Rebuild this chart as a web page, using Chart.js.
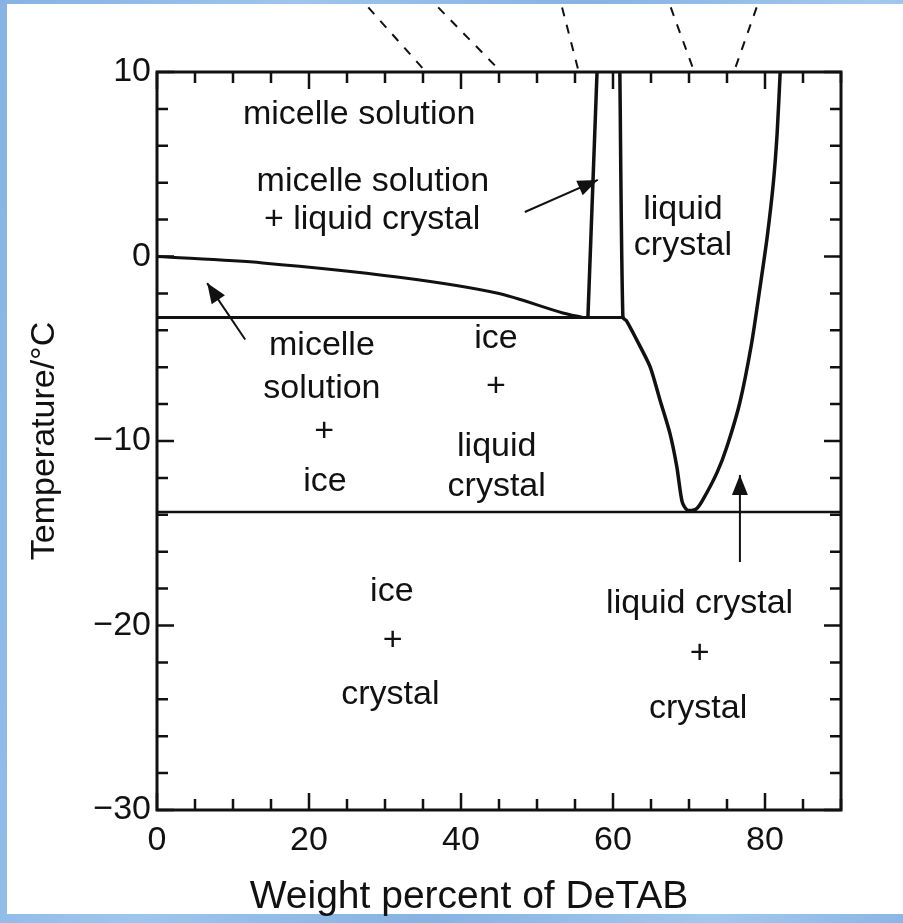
<!DOCTYPE html>
<html>
<head>
<meta charset="utf-8">
<script src="https://cdn.jsdelivr.net/npm/chart.js@4.4.1/dist/chart.umd.min.js"></script>
<style>
  html, body { margin: 0; padding: 0; }
  body {
    width: 903px; height: 923px; position: relative; overflow: hidden;
    background: linear-gradient(100deg, #86b3e3 0%, #9dc5ed 28%, #86b3e3 55%, #a2c8ee 82%, #8ab6e5 100%);
  }
  #sheet { position: absolute; left: 7px; top: 4px; right: 0; bottom: 9px; background: #fff; }
  #chart { position: absolute; left: 0; top: 0; }
</style>
</head>
<body>
<div id="sheet"></div>
<canvas id="chart" width="903" height="923"></canvas>
<script>
// DeTAB / water phase diagram: weight percent (x) vs temperature in °C (y)

const xTickValues = [0, 20, 40, 60, 80];
const xTickLabels = ['0', '20', '40', '60', '80'];
const yTickValues = [10, 0, -10, -20, -30];
const yTickLabels = ['10', '0', '\u221210', '\u221220', '\u221230'];
const xMinorTicks = [5, 10, 15, 25, 30, 35, 45, 50, 55, 65, 70, 75, 85, 90];
const yMinorTicks = [8, 6, 4, 2, -2, -4, -6, -8, -12, -14, -16, -18, -22, -24, -26, -28];
const xTitle = 'Weight percent of DeTAB';
const yTitle = 'Temperature/\u00B0C';

// micelle solution / micelle solution + liquid crystal boundary
const liquidusX = [0, 13.9, 31.6, 44.7, 53.4, 56.0];
const liquidusY = [0, -0.35, -1.11, -1.98, -3.06, -3.3];

// ice line
const eutecticX = [0, 61.5];
const eutecticY = [-3.3, -3.3];

// narrow two-phase strip, left edge
const stripLeftX = [57.9, 56.7];
const stripLeftY = [10, -3.3];

// liquid crystal region outline
const lcX = [60.9, 61.3, 61.8, 63.6, 64.9, 66.2, 67.5, 68.4, 69.1, 69.8, 70.9, 71.8, 73.7, 75.0, 76.7, 78.2, 79.3, 80.3, 81.1, 81.6, 82.0];
const lcY = [10, -3.3, -3.5, -4.9, -6.0, -7.8, -9.6, -11.4, -13.3, -13.75, -13.7, -13.2, -11.7, -10.3, -7.9, -4.8, -1.8, 1.1, 4.0, 6.7, 10];

// crystal line
const solidusX = [0, 90];
const solidusY = [-13.85, -13.85];

// dashed leaders running off the top of the frame
const leaderTopX = [27.8, 37.0, 53.3, 67.6, 78.9];
const leaderBaseX = [35.4, 45.3, 55.5, 70.7, 75.9];
const leaderTopY = 13.5;

// arrows: tail -> head
const arrowTailX = [48.4, 11.6, 76.7];
const arrowTailY = [2.41, -4.5, -16.56];
const arrowHeadX = [58.0, 6.6, 76.7];
const arrowHeadY = [4.15, -1.44, -11.84];

// region labels, anchored at data coordinates
const labelText = ['micelle solution', 'micelle solution', '+ liquid crystal', 'liquid', 'crystal',
  'micelle', 'solution', '+', 'ice', 'ice', '+', 'liquid', 'crystal',
  'ice', '+', 'crystal', 'liquid crystal', '+', 'crystal'];
const labelX = [26.6, 28.4, 28.3, 69.2, 69.2, 21.7, 21.7, 22.0, 22.1, 44.6, 44.6, 44.7, 44.7,
  30.9, 31.0, 30.7, 71.4, 71.4, 71.2];
const labelY = [7.67, 4.04, 1.98, 2.52, 0.57, -4.85, -7.18, -9.51, -12.22, -4.47, -7.07, -10.33, -12.49,
  -18.18, -20.84, -23.77, -18.83, -21.54, -24.53];

const INK = '#111';
const FONT = '"Liberation Sans", Arial, sans-serif';

function pts(xs, ys) {
  return xs.map((x, i) => ({ x: x, y: ys[i] }));
}

function boundary(xs, ys, width, extra) {
  return Object.assign({
    data: pts(xs, ys),
    showLine: true,
    borderColor: INK,
    borderWidth: width,
    pointRadius: 0,
    tension: 0,
    fill: false
  }, extra || {});
}

const datasets = [
  boundary(liquidusX, liquidusY, 3, { tension: 0.3 }),
  boundary(eutecticX, eutecticY, 3),
  boundary(stripLeftX, stripLeftY, 3.5),
  boundary(lcX, lcY, 3.5, { tension: 0.25 }),
  boundary(solidusX, solidusY, 2.5)
];

leaderTopX.forEach((x, i) => {
  datasets.push(boundary([x, leaderBaseX[i]], [leaderTopY, 10], 2, {
    borderDash: [9, 9], clip: false
  }));
});

arrowTailX.forEach((x, i) => {
  datasets.push(boundary([x, arrowHeadX[i]], [arrowTailY[i], arrowHeadY[i]], 2));
});

// frame, inward ticks, arrow heads, region labels and the x title
const phasePlugin = {
  id: 'phasePlugin',
  afterDatasetsDraw(chart) {
    const ctx = chart.ctx;
    const xs = chart.scales.x, ys = chart.scales.y;
    const a = chart.chartArea;
    ctx.save();
    ctx.strokeStyle = INK;
    ctx.fillStyle = INK;

    ctx.lineWidth = 3;
    ctx.strokeRect(a.left, a.top, a.right - a.left, a.bottom - a.top);

    ctx.lineWidth = 2.5;
    const xTick = (v, len) => {
      const p = xs.getPixelForValue(v);
      ctx.beginPath();
      ctx.moveTo(p, a.bottom); ctx.lineTo(p, a.bottom - len);
      ctx.moveTo(p, a.top); ctx.lineTo(p, a.top + len);
      ctx.stroke();
    };
    const yTick = (v, len) => {
      const p = ys.getPixelForValue(v);
      ctx.beginPath();
      ctx.moveTo(a.left, p); ctx.lineTo(a.left + len, p);
      ctx.moveTo(a.right, p); ctx.lineTo(a.right - len, p);
      ctx.stroke();
    };
    xTickValues.forEach(v => xTick(v, 17));
    xMinorTicks.forEach(v => xTick(v, 11));
    yTickValues.forEach(v => yTick(v, 17));
    yMinorTicks.forEach(v => yTick(v, 11));

    arrowHeadX.forEach((hx, i) => {
      const tx = xs.getPixelForValue(arrowTailX[i]), ty = ys.getPixelForValue(arrowTailY[i]);
      const px = xs.getPixelForValue(hx), py = ys.getPixelForValue(arrowHeadY[i]);
      const ang = Math.atan2(py - ty, px - tx);
      const len = 20, half = 8;
      ctx.beginPath();
      ctx.moveTo(px, py);
      ctx.lineTo(px - len * Math.cos(ang) + half * Math.sin(ang), py - len * Math.sin(ang) - half * Math.cos(ang));
      ctx.lineTo(px - len * Math.cos(ang) - half * Math.sin(ang), py - len * Math.sin(ang) + half * Math.cos(ang));
      ctx.closePath();
      ctx.fill();
    });

    ctx.font = '34px ' + FONT;
    ctx.textAlign = 'center';
    ctx.textBaseline = 'middle';
    labelText.forEach((t, i) => {
      ctx.fillText(t, xs.getPixelForValue(labelX[i]), ys.getPixelForValue(labelY[i]));
    });

    // x title sits a little left of the plot centre
    ctx.font = '39px ' + FONT;
    ctx.fillText(xTitle, 469, 897);
    ctx.restore();
  }
};

new Chart(document.getElementById('chart'), {
  type: 'scatter',
  data: { datasets: datasets },
  options: {
    responsive: false,
    animation: false,
    events: [],
    layout: { padding: { left: 8, top: 72, right: 62, bottom: 4 } },
    plugins: { legend: { display: false }, tooltip: { enabled: false } },
    scales: {
      x: {
        type: 'linear', min: 0, max: 90,
        grid: { display: false, drawTicks: false },
        border: { display: false },
        afterBuildTicks: s => { s.ticks = xTickValues.map(v => ({ value: v })); },
        afterFit: s => { s.height = 109; },
        ticks: {
          color: INK, padding: 10, maxRotation: 0, autoSkip: false,
          font: { family: FONT, size: 34 },
          callback: v => xTickLabels[xTickValues.indexOf(v)]
        },
        title: { display: false }
      },
      y: {
        type: 'linear', min: -30, max: 10,
        grid: { display: false, drawTicks: false },
        border: { display: false },
        afterBuildTicks: s => { s.ticks = yTickValues.map(v => ({ value: v })); },
        afterFit: s => { s.width = 149; },
        ticks: {
          color: INK, padding: 6, autoSkip: false,
          font: { family: FONT, size: 34 },
          callback: v => yTickLabels[yTickValues.indexOf(v)]
        },
        title: {
          display: true, text: yTitle, color: INK,
          font: { family: FONT, size: 34 }, padding: { top: 16, bottom: 0 }
        }
      }
    }
  },
  plugins: [phasePlugin]
});
</script>
</body>
</html>
